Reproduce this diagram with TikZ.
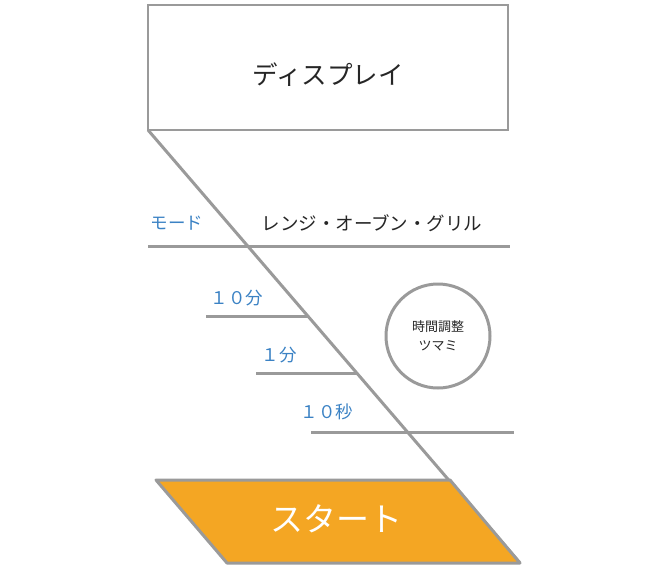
\documentclass[tikz,border=0pt]{standalone}
\usepackage{fontspec}
\setmainfont{Noto Sans CJK JP}
\usetikzlibrary{positioning}
\definecolor{linegray}{HTML}{9A9A9A}
\definecolor{labelblue}{HTML}{3B82C4}
\definecolor{startorange}{HTML}{F4A623}

\begin{document}
\begin{tikzpicture}[x=1pt, y=-1pt,
		barline/.style={draw=linegray, line width=3pt},
		bluelabel/.style={text=labelblue, font=\fontsize{17.5}{17.5}\selectfont, inner sep=0pt}]
		\useasboundingbox (0,0) rectangle (655,573);
		
		% Display
		\node[draw=linegray, line width=2.4pt, outer sep=0pt, minimum width=360pt, minimum height=125pt] (display) at (328,67.5) {};
		\node[font=\fontsize{25.5}{25.5}\selectfont, text=black!85] (displaytext) at ([yshift=-7pt]display.center) {ディスプレイ};
		
		% Start button
		\coordinate (startend) at (520,563);
		\draw[barline] (display.south west) -- (startend);
		\draw[barline, fill=startorange, line join=round] (156,480) -- (450,480) -- (startend) -- (227,563) -- cycle;
		\node[text=white, font=\fontsize{33}{33}\selectfont] (start) at (336,519) {スタート};
		
		% Mode
		\draw[barline] (148,246) -- (510,246);
		\node[bluelabel] (mode) at (177,223) {モード};
		\node[font=\fontsize{18.5}{18.5}\selectfont, text=black!85, inner sep=0pt] (modes) at (372,223) {レンジ・オーブン・グリル};
		
		% Time buttons
		\draw[barline] (206,316) -- (308,316);
		\node[bluelabel] (tenmin) at (237,298) {１０分};
		\draw[barline] (256,373) -- (357,373);
		\node[bluelabel] (onemin) at (279,355) {１分};
		\draw[barline] (311,432) -- (514,432);
		\node[bluelabel] (tensec) at (327,412) {１０秒};
		
		% Knob
		\node[circle, draw=linegray, line width=3pt, minimum size=104pt, align=center,
			font=\fontsize{13}{19}\selectfont, text=black!85] (knob) at (438,336) {時間調整\\ツマミ};
	\end{tikzpicture}
\end{document}
